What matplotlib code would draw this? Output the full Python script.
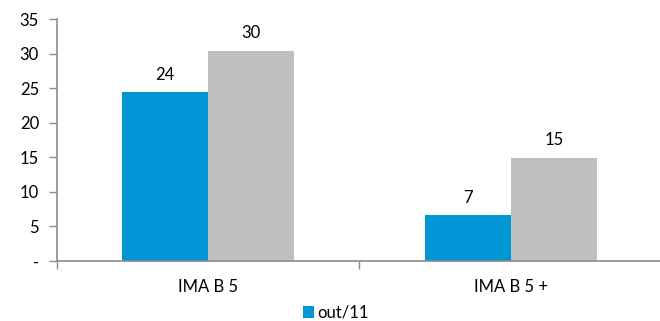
import matplotlib.pyplot as plt
import numpy as np

plt.rcParams['font.family'] = ['Lato', 'DejaVu Sans']

categories = ['IMA B 5', 'IMA B 5 +']
out11 = [24.4, 6.6]
other = [30.4, 14.9]
series_names = ['out/11', '']
yticks = [0, 5, 10, 15, 20, 25, 30, 35]
ytick_labels = ['-', '5', '10', '15', '20', '25', '30', '35']

blue = '#0096D6'
grey = '#BFBFBF'
axis_col = '#8C8C8C'
fs = 12

fig = plt.figure(figsize=(6.6, 3.21), dpi=100)
ax = fig.add_axes([57 / 660, 60 / 321, 605 / 660, 242 / 321])

x = np.arange(len(categories))
w = 0.285
b1 = ax.bar(x - w / 2, out11, w, color=blue, label=series_names[0])
b2 = ax.bar(x + w / 2, other, w, color=grey)

for bars, vals in ((b1, out11), (b2, other)):
    for rect, v in zip(bars, vals):
        ax.text(rect.get_x() + rect.get_width() / 2, v + 1.4, f'{v:.0f}',
                ha='center', va='bottom', fontsize=fs, color='#000000')

ax.set_ylim(0, 35)
ax.set_xlim(-0.5, 1.5)
ax.set_yticks(yticks)
ax.set_yticklabels(ytick_labels, fontsize=fs)
ax.set_xticks([-0.5, 0.5, 1.5])
ax.set_xticklabels([])
ax.set_xticks(x, minor=True)
ax.set_xticklabels(categories, minor=True, fontsize=fs)
ax.tick_params(axis='x', which='minor', length=0, pad=13)
ax.tick_params(axis='x', which='major', length=6, color=axis_col, width=1)
ax.tick_params(axis='y', length=6, color=axis_col, width=1, pad=7)

for side in ('top', 'right'):
    ax.spines[side].set_visible(False)
for side in ('left', 'bottom'):
    ax.spines[side].set_color(axis_col)
    ax.spines[side].set_linewidth(1.2)

leg = fig.legend(handles=[b1], loc='center', bbox_to_anchor=(336 / 660, 1 - 313 / 321),
                 frameon=False, fontsize=fs, handlelength=0.7, handleheight=0.7,
                 handletextpad=0.2)

fig.savefig('out.png', dpi=100)
